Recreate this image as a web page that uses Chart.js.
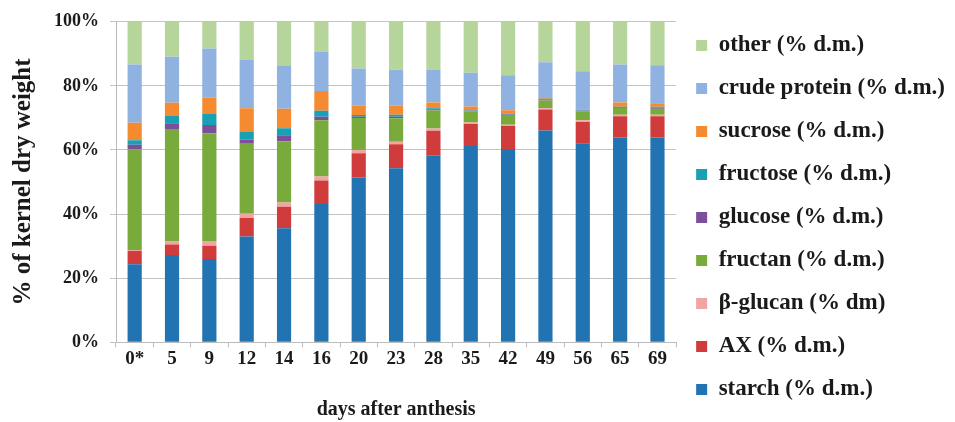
<!DOCTYPE html>
<html>
<head>
<meta charset="utf-8">
<script src="https://cdn.jsdelivr.net/npm/chart.js@4.4.1/dist/chart.umd.min.js"></script>
<style>
  html, body { margin: 0; padding: 0; background: #fff; overflow: hidden; }
  #wrap { width: 955px; height: 422px; }
</style>
</head>
<body>
<div id="wrap"><canvas id="kernelChart"></canvas></div>
<script>
const days = ['0*', '5', '9', '12', '14', '16', '20', '23', '28', '35', '42', '49', '56', '65', '69'];

// % of kernel dry weight, stacked bottom to top
const starch = [24.3, 27.2, 26.0, 33.0, 35.6, 43.1, 51.4, 54.3, 58.2, 61.2, 60.3, 66.1, 62.1, 63.9, 63.9];
const ax = [4.2, 3.3, 4.1, 5.8, 6.7, 7.4, 7.6, 7.5, 7.8, 6.9, 7.2, 6.5, 6.6, 6.6, 6.6];
const betaGlucan = [0.3, 0.9, 1.5, 1.3, 1.3, 1.2, 1.0, 0.8, 0.7, 0.5, 0.4, 0.4, 0.6, 0.5, 0.5];
const fructan = [31.4, 34.9, 33.6, 21.8, 19.1, 17.6, 10.0, 7.3, 5.6, 3.5, 3.0, 2.4, 2.7, 2.1, 1.9];
const glucose = [1.4, 2.0, 2.6, 1.4, 1.9, 1.1, 0.4, 0.5, 0.4, 0.15, 0.2, 0.3, 0.2, 0.2, 0.3];
const fructose = [1.4, 2.3, 3.4, 2.3, 2.2, 1.8, 0.5, 0.6, 0.3, 0.15, 0.2, 0.3, 0.2, 0.2, 0.3];
const sucrose = [5.5, 4.1, 5.1, 7.4, 6.1, 6.2, 2.9, 2.8, 1.8, 1.2, 1.1, 0.2, 0.3, 1.3, 1.1];
const crudeProtein = [18.2, 14.4, 15.4, 15.2, 13.3, 12.3, 11.6, 11.2, 10.3, 10.5, 10.9, 11.2, 11.9, 11.9, 11.8];
const other = [13.3, 10.9, 8.3, 11.8, 13.8, 9.3, 14.6, 15.0, 14.9, 15.9, 16.7, 12.8, 15.4, 13.3, 13.6];

const yTicks = [0, 20, 40, 60, 80, 100];

const serif = '"Liberation Serif", "Times New Roman", serif';
const ink = '#1a1a1a';

const series = [
  { label: 'starch (% d.m.)', data: starch, color: '#2273b2' },
  { label: 'AX (% d.m.)', data: ax, color: '#d03c3c' },
  { label: 'β-glucan (% dm)', data: betaGlucan, color: '#f2a3a3' },
  { label: 'fructan (% d.m.)', data: fructan, color: '#78ab3b' },
  { label: 'glucose (% d.m.)', data: glucose, color: '#7b509b' },
  { label: 'fructose (% d.m.)', data: fructose, color: '#1aa0b5' },
  { label: 'sucrose (% d.m.)', data: sucrose, color: '#f58a30' },
  { label: 'crude protein (% d.m.)', data: crudeProtein, color: '#8fb2e0' },
  { label: 'other (% d.m.)', data: other, color: '#b5d59b' },
];

const ctx = document.getElementById('kernelChart');

new Chart(ctx, {
  type: 'bar',
  data: {
    labels: days,
    datasets: series.map(s => ({
      label: s.label,
      data: s.data,
      backgroundColor: s.color,
      borderWidth: 0,
      barPercentage: 0.38,
      categoryPercentage: 1.0,
    })),
  },
  options: {
    responsive: true,
    maintainAspectRatio: false,
    animation: false,
    layout: { padding: { top: 13, left: 9, right: 0, bottom: 0 } },
    plugins: {
      tooltip: { enabled: false },
      legend: {
        position: 'right',
        reverse: true,
        maxWidth: 283,
        labels: {
          boxWidth: 11,
          boxHeight: 11,
          padding: 20,
          color: ink,
          font: { family: serif, size: 23, weight: 'bold' },
        },
      },
    },
    scales: {
      x: {
        stacked: true,
        offset: true,
        grid: {
          offset: true,
          drawOnChartArea: false,
          drawTicks: true,
          tickLength: 5,
          color: '#bcbcbc',
        },
        border: { color: '#bcbcbc' },
        ticks: {
          color: ink,
          padding: 0,
          font: { family: serif, size: 19, weight: 'bold' },
        },
        title: {
          display: true,
          text: 'days after anthesis',
          color: ink,
          padding: { top: 28, bottom: 0 },
          font: { family: serif, size: 20, weight: 'bold' },
        },
      },
      y: {
        stacked: true,
        min: 0,
        max: 100,
        afterBuildTicks: axis => {
          axis.ticks = yTicks.map(v => ({ value: v }));
        },
        grid: {
          color: '#c4c4c4',
          tickLength: 6,
        },
        border: { color: '#bcbcbc' },
        ticks: {
          color: ink,
          padding: 11,
          callback: v => v + '%',
          font: { family: serif, size: 18, weight: 'bold' },
        },
        title: {
          display: true,
          text: '% of kernel dry weight',
          color: ink,
          padding: { top: 0, bottom: 4 },
          font: { family: serif, size: 25, weight: 'bold' },
        },
      },
    },
  },
});
</script>
</body>
</html>
